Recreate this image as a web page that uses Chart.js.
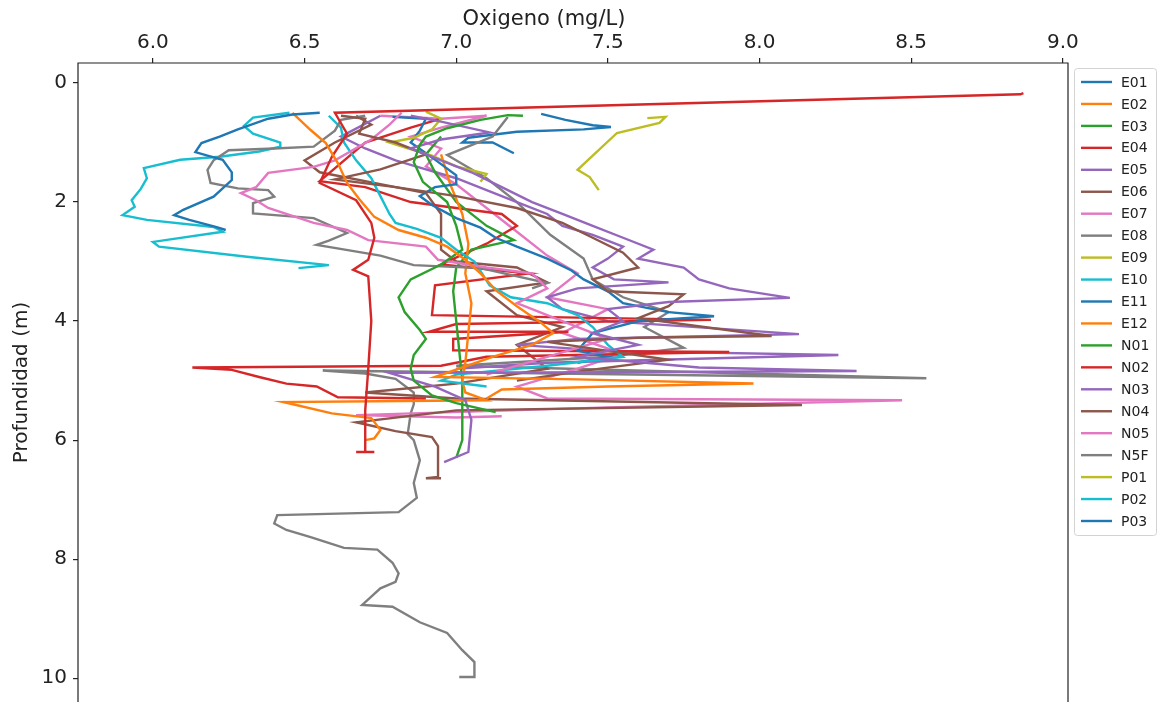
<!DOCTYPE html>
<html>
<head>
<meta charset="utf-8">
<script src="https://cdn.jsdelivr.net/npm/chart.js@4.4.1/dist/chart.umd.min.js"></script>
<style>
  body { margin: 0; background: #fff; }
  canvas { display: block; }
</style>
</head>
<body>
<canvas id="perfiles" width="1159" height="702"></canvas>
<script>
// ticks
const xTicks = [6.0, 6.5, 7.0, 7.5, 8.0, 8.5, 9.0];
const yTicks = [0, 2, 4, 6, 8, 10];

const estaciones = ["E01","E02","E03","E04","E05","E06","E07","E08","E09","E10","E11","E12",
                    "N01","N02","N03","N04","N05","N5F","P01","P02","P03"];

// oxigeno (mg/L) y profundidad (m) por estacion
const E01_ox   = [6.55,6.46,6.38,6.28,6.22,6.16,6.14,6.18,6.23,6.26,6.26,6.2,6.1,6.07,6.12,6.21,6.24];
const E01_prof = [0.5,0.53,0.6,0.78,0.9,1.01,1.16,1.22,1.29,1.5,1.63,1.91,2.13,2.22,2.3,2.42,2.47];

const E02_ox   = [6.46,6.52,6.57,6.61,6.64,6.68,6.73,6.81,6.9,6.97,7.03,7.08,7.13,7.2,7.28,7.32,7.25,7.12,6.93,7.4,7.98,7.5,7.15,7.1];
const E02_prof = [0.5,0.79,1.01,1.35,1.68,1.95,2.25,2.47,2.6,2.75,2.97,3.2,3.48,3.75,4.03,4.2,4.4,4.6,4.94,4.98,5.05,5.1,5.15,5.3];

const E03_ox   = [7.22,7.17,7.08,6.97,6.9,6.88,6.86,6.89,6.97,7.0,7.02,6.95,6.85,6.81,6.83,6.88,6.9,6.86,6.85,6.86,6.92,7.0,7.13];
const E03_prof = [0.55,0.54,0.62,0.76,0.9,1.04,1.33,1.66,2.0,2.4,2.8,3.05,3.3,3.6,3.85,4.15,4.3,4.57,4.8,5.0,5.25,5.38,5.53];

const E04_ox   = [8.87,8.86,6.6,6.64,6.59,6.55,6.67,6.72,6.73,6.71,6.66,6.71,6.72,6.71,6.7,6.7,6.7,6.67,6.73];
const E04_prof = [0.17,0.19,0.5,0.85,1.24,1.68,1.97,2.35,2.6,2.97,3.14,3.25,4.0,4.8,5.5,6.0,6.2,6.2,6.2];

const E05_ox   = [6.85,6.95,7.11,6.95,6.85,6.95,7.05,7.15,7.25,7.35,7.45,7.55,7.65,7.6,7.75,7.8,7.9,8.1,7.7,7.5,7.55,7.45,7.6,7.4,7.8,8.32,7.5,6.78,6.93,7.03,7.05,7.04,6.96];
const E05_prof = [0.55,0.65,0.83,0.95,1.1,1.3,1.5,1.75,2.0,2.2,2.4,2.6,2.8,2.95,3.1,3.3,3.45,3.61,3.68,3.8,4.0,4.2,4.4,4.6,4.78,4.84,4.86,4.87,5.1,5.33,5.66,6.2,6.37];

const E06_ox   = [6.62,6.7,6.68,6.8,6.9,6.75,6.6,6.8,7.0,7.2,7.35,7.45,7.55,7.6,7.45,7.5,7.75,7.7,7.6,8.04,7.6,7.3,7.5,7.7,7.4,7.2];
const E06_prof = [0.55,0.6,0.85,1.0,1.2,1.45,1.62,1.75,1.9,2.1,2.35,2.6,2.85,3.1,3.3,3.5,3.55,3.75,3.95,4.25,4.28,4.35,4.5,4.65,4.85,5.0];

const E07_ox   = [6.82,6.78,6.72,6.6,6.53,6.38,6.34,6.29,6.34,6.38,6.53,6.64,6.71,6.9,6.94,7.1,7.25,7.3,7.2,7.35,7.5,7.3,7.1];
const E07_prof = [0.5,0.7,0.95,1.3,1.41,1.51,1.75,1.85,1.97,2.1,2.35,2.47,2.64,2.75,2.97,3.1,3.2,3.45,3.7,4.0,4.3,4.6,4.9];

const E08_ox   = [6.7,6.62,6.6,6.53,6.4,6.25,6.2,6.18,6.19,6.28,6.38,6.4,6.33,6.33,6.53,6.64,6.58,6.54,6.75,6.86,7.08,7.3,7.25];
const E08_prof = [0.55,0.62,0.8,1.07,1.1,1.13,1.3,1.46,1.68,1.77,1.8,1.91,2.02,2.19,2.27,2.52,2.65,2.72,2.9,3.06,3.11,3.36,3.45];

const E09_ox   = [6.9,6.95,6.92,6.86,6.78,6.84,6.92,7.0,7.1,7.08];
const E09_prof = [0.48,0.6,0.78,0.92,1.0,1.1,1.22,1.4,1.53,1.66];

const E10_ox   = [6.58,6.62,6.63,6.67,6.72,6.75,6.78,6.8,6.87,6.95,7.0,7.06,7.11,7.18,7.3,7.4,7.45,7.5,7.55,7.3,7.0,6.95,7.1];
const E10_prof = [0.55,0.75,1.0,1.3,1.6,1.9,2.2,2.35,2.45,2.6,2.8,3.0,3.4,3.6,3.7,3.9,4.1,4.4,4.6,4.75,4.9,5.0,5.1];

const E11_ox   = [6.79,6.9,6.88,6.85,6.92,7.0,7.0,6.93,6.88,6.92,7.0,7.08,7.13,7.2,7.3,7.38,7.42,7.5,7.55,7.7,7.85,7.6,7.45,7.4,7.5,7.4];
const E11_prof = [0.57,0.6,0.8,1.0,1.25,1.55,1.7,1.75,1.9,2.05,2.27,2.43,2.6,2.75,2.95,3.15,3.3,3.5,3.7,3.85,3.92,4.0,4.2,4.5,4.6,4.7];

const E12_ox   = [6.95,6.98,7.02,7.04,7.03,7.05,7.04,7.03,7.02,7.03,7.1,6.43,6.59,6.72,6.75,6.73,6.7];
const E12_prof = [1.2,1.7,2.2,2.7,3.2,3.7,4.2,4.7,5.0,5.2,5.33,5.36,5.55,5.63,5.83,5.97,6.0];

const N01_ox   = [6.95,6.9,6.93,7.0,7.1,7.19,7.05,7.0,6.99,7.0,7.01,7.02,7.02,7.02,7.0];
const N01_prof = [0.9,1.2,1.5,2.0,2.4,2.64,2.8,3.1,3.5,4.0,4.5,5.0,5.5,6.0,6.3];

const N02_ox   = [6.95,6.85,6.7,6.55,6.7,6.85,7.0,7.15,7.2,7.1,6.95,7.24,6.93,6.92,7.84,7.0,6.91,7.37,6.99,6.99,7.9,7.1,6.95,6.13,6.26,6.35,6.44,6.54,6.61,6.9];
const N02_prof = [0.6,0.75,1.0,1.65,1.75,2.0,2.1,2.2,2.4,2.7,3.05,3.2,3.4,3.9,3.98,4.05,4.18,4.18,4.3,4.49,4.52,4.6,4.75,4.78,4.82,4.94,5.05,5.1,5.28,5.3];

const N03_ox   = [6.75,6.62,6.7,6.8,6.9,7.0,7.1,7.2,7.3,7.35,7.45,7.55,7.5,7.45,7.52,7.7,7.4,7.3,7.35,7.5,8.13,7.4,7.2,7.5,8.26,7.3,7.0];
const N03_prof = [0.55,0.9,1.1,1.3,1.45,1.6,1.8,2.0,2.2,2.4,2.55,2.75,2.95,3.1,3.3,3.35,3.45,3.6,3.8,4.0,4.22,4.3,4.4,4.5,4.57,4.7,4.8];

const N04_ox   = [6.67,6.72,6.6,6.5,6.55,6.75,6.9,6.95,6.95,7.0,7.2,7.3,7.1,7.2,7.35,7.2,7.3,7.0,6.7,7.0,8.14,7.0,6.67,6.8,6.92,6.94,6.94,6.9,6.95];
const N04_prof = [0.55,0.7,1.0,1.3,1.5,1.7,1.85,2.2,2.8,3.0,3.1,3.35,3.5,3.9,4.1,4.4,4.8,5.05,5.2,5.3,5.41,5.5,5.7,5.85,5.95,6.1,6.62,6.64,6.64];

const N05_ox   = [6.75,6.95,7.1,6.95,6.85,6.95,6.9,7.0,7.1,7.2,7.3,7.4,7.3,7.5,7.35,7.55,7.4,7.2,7.3,8.47,7.5,6.67,7.0,7.15];
const N05_prof = [0.55,0.6,0.55,0.75,0.9,1.1,1.4,1.7,2.1,2.5,2.9,3.2,3.6,3.8,4.2,4.55,4.8,5.1,5.3,5.33,5.45,5.58,5.62,5.6];

const N5F_ox   = [7.17,7.12,6.97,7.1,7.2,7.31,7.42,7.45,7.55,7.7,7.62,7.75,7.5,7.0,8.55,6.56,6.7,6.8,6.86,6.86,6.85,6.84,6.86,6.88,6.86,6.87,6.81,6.41,6.4,6.44,6.52,6.63,6.74,6.79,6.81,6.8,6.75,6.69,6.79,6.88,6.97,7.02,7.06,7.06,7.01];
const N5F_prof = [0.57,0.9,1.21,1.6,2.0,2.55,2.95,3.3,3.6,3.85,4.1,4.45,4.6,4.75,4.96,4.83,4.88,4.97,5.2,5.4,5.55,5.9,6.0,6.34,6.72,6.97,7.21,7.26,7.4,7.51,7.63,7.81,7.84,8.06,8.24,8.38,8.49,8.77,8.8,9.06,9.24,9.53,9.73,9.98,9.98];

const P01_ox   = [7.63,7.69,7.67,7.53,7.4,7.44,7.47];
const P01_prof = [0.59,0.57,0.67,0.84,1.46,1.58,1.8];

const P02_ox   = [6.45,6.33,6.3,6.33,6.42,6.42,6.35,6.22,6.09,5.97,5.98,5.96,5.93,5.94,5.9,5.98,6.2,6.23,6.0,6.02,6.31,6.58,6.48];
const P02_prof = [0.5,0.58,0.72,0.85,1.0,1.07,1.15,1.24,1.29,1.43,1.6,1.78,1.97,2.08,2.22,2.3,2.42,2.5,2.67,2.75,2.92,3.06,3.11];

const P03_ox   = [7.28,7.36,7.45,7.51,7.42,7.2,7.04,7.02,7.12,7.19];
const P03_prof = [0.52,0.62,0.71,0.74,0.78,0.82,0.92,1.0,1.0,1.18];

const series = {
  E01: [E01_ox, E01_prof], E02: [E02_ox, E02_prof], E03: [E03_ox, E03_prof],
  E04: [E04_ox, E04_prof], E05: [E05_ox, E05_prof], E06: [E06_ox, E06_prof],
  E07: [E07_ox, E07_prof], E08: [E08_ox, E08_prof], E09: [E09_ox, E09_prof],
  E10: [E10_ox, E10_prof], E11: [E11_ox, E11_prof], E12: [E12_ox, E12_prof],
  N01: [N01_ox, N01_prof], N02: [N02_ox, N02_prof], N03: [N03_ox, N03_prof],
  N04: [N04_ox, N04_prof], N05: [N05_ox, N05_prof], N5F: [N5F_ox, N5F_prof],
  P01: [P01_ox, P01_prof], P02: [P02_ox, P02_prof], P03: [P03_ox, P03_prof]
};

// ciclo de colores tipo matplotlib
const colores = ["#1f77b4","#ff7f0e","#2ca02c","#d62728","#9467bd",
                 "#8c564b","#e377c2","#7f7f7f","#bcbd22","#17becf"];

const datasets = estaciones.map((est, i) => {
  const [ox, prof] = series[est];
  return {
    label: est,
    data: ox.map((v, j) => ({ x: v, y: prof[j] })),
    showLine: true,
    borderColor: colores[i % colores.length],
    backgroundColor: colores[i % colores.length],
    borderWidth: 2.4,
    pointRadius: 0,
    tension: 0
  };
});

const FONT = "'DejaVu Sans', sans-serif";

// marco del eje, titulo X y leyenda al estilo matplotlib
const marcoYLeyenda = {
  id: "marcoYLeyenda",
  afterDraw(chart) {
    const ctx = chart.ctx;
    const a = chart.chartArea;
    ctx.save();
    ctx.strokeStyle = "#222";
    ctx.lineWidth = 1.2;
    ctx.beginPath();
    ctx.moveTo(a.left, a.bottom + 2);
    ctx.lineTo(a.left, a.top);
    ctx.lineTo(a.right, a.top);
    ctx.lineTo(a.right, a.bottom + 2);
    ctx.stroke();

    // titulo del eje X (algo a la izquierda del centro, como en la figura)
    ctx.font = "21px " + FONT;
    ctx.fillStyle = "#222";
    ctx.textAlign = "center";
    ctx.textBaseline = "middle";
    ctx.fillText("Oxigeno (mg/L)", 544, 20);

    // leyenda
    const lx = 1074.5, ly = 68.5, lw = 82, lh = 467, r = 3;
    ctx.strokeStyle = "#d3d3d3";
    ctx.lineWidth = 1;
    ctx.beginPath();
    ctx.moveTo(lx + r, ly);
    ctx.arcTo(lx + lw, ly, lx + lw, ly + lh, r);
    ctx.arcTo(lx + lw, ly + lh, lx, ly + lh, r);
    ctx.arcTo(lx, ly + lh, lx, ly, r);
    ctx.arcTo(lx, ly, lx + lw, ly, r);
    ctx.stroke();

    ctx.font = "14px " + FONT;
    ctx.textAlign = "left";
    ctx.textBaseline = "middle";
    chart.data.datasets.forEach((ds, i) => {
      const y = 82 + i * 21.95;
      ctx.strokeStyle = ds.borderColor;
      ctx.lineWidth = 2.4;
      ctx.beginPath();
      ctx.moveTo(1081, y);
      ctx.lineTo(1112, y);
      ctx.stroke();
      ctx.fillText(ds.label, 1121, y + 1);
    });
    ctx.restore();
  }
};

new Chart(document.getElementById("perfiles").getContext("2d"), {
  type: "scatter",
  data: { datasets },
  options: {
    responsive: false,
    animation: false,
    devicePixelRatio: 1,
    layout: { padding: { left: 0, top: 0, right: 91, bottom: 0 } },
    plugins: {
      legend: { display: false },
      tooltip: { enabled: false }
    },
    scales: {
      x: {
        type: "linear",
        position: "top",
        min: 5.753,
        max: 9.017,
        afterBuildTicks: s => { s.ticks = xTicks.map(v => ({ value: v })); },
        afterFit: s => { s.height = 63; s.paddingLeft = 0; s.paddingRight = 0; },
        ticks: {
          callback: v => v.toFixed(1),
          font: { family: FONT, size: 20 },
          color: "#222",
          padding: 3,
          maxRotation: 0
        },
        grid: { display: true, drawOnChartArea: false, drawTicks: true, tickLength: 5, color: "#222", lineWidth: 1.2 },
        border: { display: false },
        title: { display: false }
      },
      y: {
        type: "linear",
        position: "left",
        reverse: true,
        min: -0.336,
        max: 10.4,
        afterBuildTicks: s => { s.ticks = yTicks.map(v => ({ value: v })); },
        afterFit: s => { s.width = 78; s.paddingTop = 0; s.paddingBottom = 0; },
        ticks: {
          callback: v => String(v),
          font: { family: FONT, size: 20 },
          color: "#222",
          padding: 6
        },
        grid: { display: true, drawOnChartArea: false, drawTicks: true, tickLength: 5, color: "#222", lineWidth: 1.2 },
        border: { display: false },
        title: {
          display: true,
          text: "Profundidad (m)",
          font: { family: FONT, size: 20 },
          color: "#222",
          padding: { top: 10, bottom: 0 }
        }
      }
    }
  },
  plugins: [marcoYLeyenda]
});
</script>
</body>
</html>
